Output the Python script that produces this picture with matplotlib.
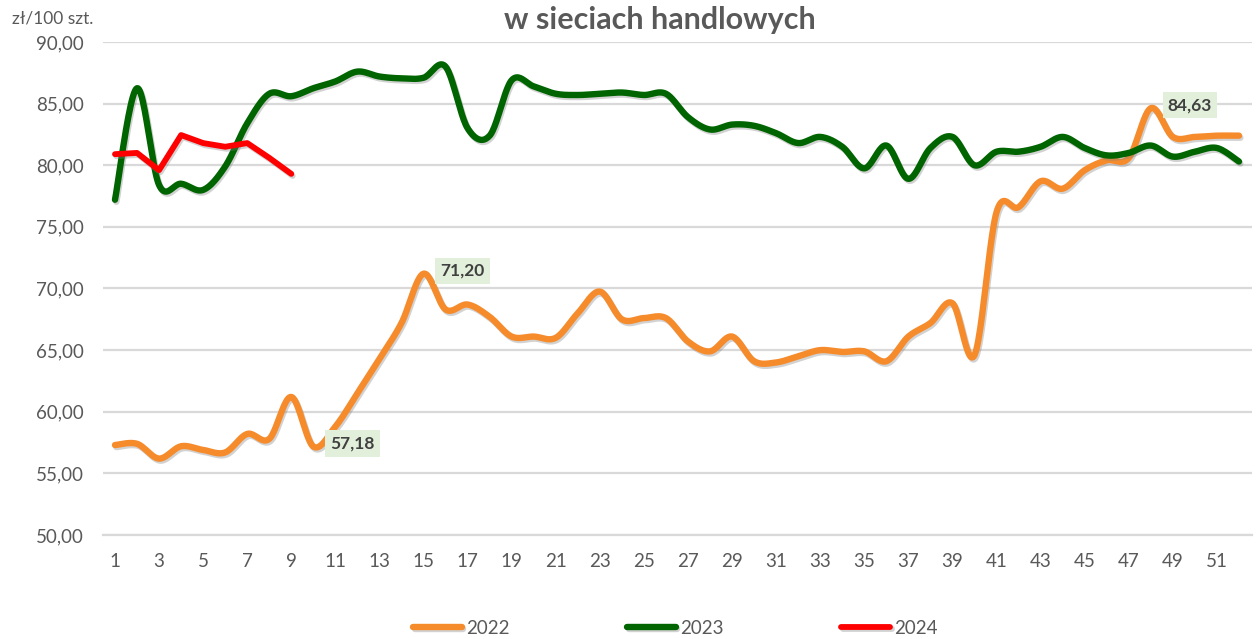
import numpy as np
import matplotlib.pyplot as plt
import matplotlib.patheffects as pe

plt.rcParams['font.family'] = ['Lato', 'DejaVu Sans']

# Tygodnie i ceny (zł/100 szt.)
weeks = np.arange(1, 53)
y2022 = [57.3, 57.4, 56.2, 57.2, 56.9, 56.7, 58.2, 57.8, 61.2, 57.18,
         58.8, 61.5, 64.3, 67.2, 71.20, 68.3, 68.7, 67.7, 66.1, 66.1,
         66.0, 68.0, 69.75, 67.5, 67.6, 67.6, 65.7, 64.9, 66.1, 64.1,
         64.0, 64.5, 65.0, 64.85, 64.9, 64.1, 66.1, 67.2, 68.8, 64.6,
         76.2, 76.6, 78.7, 78.1, 79.6, 80.4, 80.6, 84.63, 82.3, 82.3,
         82.4, 82.4]
y2023 = [77.2, 86.25, 78.4, 78.5, 78.0, 79.9, 83.4, 85.8, 85.6, 86.25,
         86.8, 87.6, 87.2, 87.05, 87.1, 88.0, 83.0, 82.4, 86.9, 86.4,
         85.8, 85.7, 85.8, 85.9, 85.7, 85.8, 83.9, 82.9, 83.3, 83.2,
         82.6, 81.8, 82.3, 81.5, 79.75, 81.6, 78.9, 81.4, 82.3, 80.0,
         81.1, 81.1, 81.5, 82.3, 81.4, 80.8, 81.0, 81.6, 80.7, 81.1,
         81.4, 80.3]
y2024 = [80.9, 81.0, 79.6, 82.45, 81.8, 81.5, 81.8, 80.6, 79.3]

labels = {'2022': [(10, 57.18), (15, 71.20), (48, 84.63)]}
yticks = np.arange(50, 91, 5)
xticks = np.arange(1, 53, 2)


def smooth(x, y, n=24):
    # wygładzona linia jak w Excelu (Catmull-Rom)
    x = np.asarray(x, float)
    y = np.asarray(y, float)
    px = np.concatenate([[x[0]], x, [x[-1]]])
    py = np.concatenate([[y[0]], y, [y[-1]]])
    xs, ys = [], []
    t = np.linspace(0, 1, n)
    for i in range(1, len(px) - 2):
        for p, out in ((px, xs), (py, ys)):
            p0, p1, p2, p3 = p[i - 1], p[i], p[i + 1], p[i + 2]
            c1 = p1 + (p2 - p0) / 6
            c2 = p2 - (p3 - p1) / 6
            out.extend((1 - t) ** 3 * p1 + 3 * (1 - t) ** 2 * t * c1
                       + 3 * (1 - t) * t ** 2 * c2 + t ** 3 * p2)
    return np.array(xs), np.array(ys)


fig = plt.figure(figsize=(12.6, 6.39), dpi=100)
ax = fig.add_axes([103 / 1260, 1 - 535 / 639, (1252 - 103) / 1260, (535 - 42) / 639])

shadow = [pe.SimpleLineShadow(offset=(1, -1.5), shadow_color='gray', alpha=0.35), pe.Normal()]

sx, sy = smooth(weeks, y2022)
ax.plot(sx, sy, color='#F68B2C', lw=4.6, solid_capstyle='round', label='2022',
        path_effects=shadow, zorder=3)
sx, sy = smooth(weeks, y2023)
ax.plot(sx, sy, color='#006400', lw=4.6, solid_capstyle='round', label='2023',
        path_effects=shadow, zorder=4)
ax.plot(weeks[:len(y2024)], y2024, color='#FF0000', lw=4.2, solid_capstyle='round',
        solid_joinstyle='round', label='2024', path_effects=shadow, zorder=5)

for w, v in labels['2022']:
    ax.annotate(f'{v:.2f}'.replace('.', ','), (w, v), xytext=(17, 3),
                textcoords='offset pixels', ha='left', va='center',
                fontsize=12.5, fontweight='bold', color='#404040', zorder=6,
                bbox=dict(boxstyle='square,pad=0.3', fc='#E2EFDA', ec='none'))

ax.set_xlim(0.456, 52.59)
ax.set_ylim(50, 90)
ax.set_yticks(yticks)
ax.set_yticklabels([f'{v:.2f}'.replace('.', ',') for v in yticks])
ax.set_xticks(xticks)
ax.grid(axis='y', color='#D9D9D9', lw=1.6)
ax.set_axisbelow(True)
for s in ['top', 'right', 'left']:
    ax.spines[s].set_visible(False)
ax.spines['bottom'].set_color('#D9D9D9')
ax.spines['bottom'].set_linewidth(1.6)
ax.tick_params(axis='y', length=0, pad=14, labelsize=13.5, labelcolor='#595959')
ax.tick_params(axis='x', length=0, pad=13, labelsize=13.5, labelcolor='#595959')

fig.text(660 / 1260, 1 - 20 / 639, 'w sieciach handlowych', ha='center', va='center',
         fontsize=22, fontweight='bold', color='#595959')
fig.text(12 / 1260, 1 - 18 / 639, 'zł/100 szt.', ha='left', va='center',
         fontsize=12.5, color='#595959')

fig.legend(loc='center', bbox_to_anchor=(0.536, 0.017), ncol=3, frameon=False,
           fontsize=13.5, labelcolor='#595959', handlelength=2.6, handletextpad=0.2,
           columnspacing=6.3)

fig.savefig('out.png', dpi=100)
